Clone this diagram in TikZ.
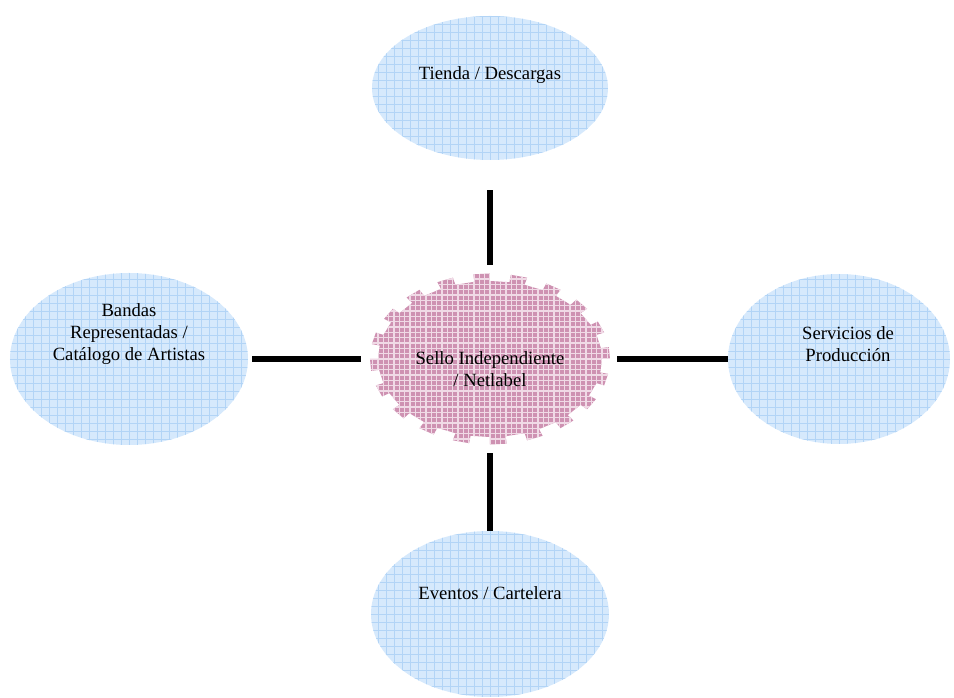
\documentclass[tikz,border=0pt]{standalone}
\usepackage{fontspec}
\setmainfont{Liberation Serif}
\usepackage{xcolor}
\usetikzlibrary{shapes.geometric, arrows}
\definecolor{bubbleblue}{RGB}{214,233,252}
\definecolor{gridblue}{RGB}{178,212,246}
\definecolor{hubmauve}{RGB}{206,146,178}
\definecolor{gridmauve}{RGB}{240,218,230}
\tikzstyle{bubble} = [ellipse, 
inner sep=0pt, 
fill=bubbleblue, 
path picture={\draw[gridblue, line width=0.6pt, step=6pt] (path picture bounding box.south west) grid (path picture bounding box.north east);}]
\tikzstyle{hub} = [ellipse, 
inner sep=0pt, 
minimum width=180pt, 
minimum height=128pt]
\tikzstyle{hubfill} = [fill=hubmauve, 
path picture={\draw[gridmauve, line width=0.8pt, step=4pt] (path picture bounding box.south west) grid (path picture bounding box.north east);}]
\tikzstyle{bubbletext} = [align=center, 
font=\fontsize{14}{16.5}\selectfont]
\tikzstyle{link} = [line width=4pt]

\begin{document}
\begin{tikzpicture}[x=0.75pt, y=0.75pt]
\useasboundingbox (-490,-339) rectangle (464,359);

% jagged centre
\path[hubfill] (0:112 and 78) \foreach \t in {0,18,...,342} {
  -- (\t:112 and 78) -- (\t:120 and 85.5) -- ({\t+8}:120 and 85.5) -- ({\t+8}:112 and 78)} -- cycle;

\node (sello) [hub] at (0,0) {};
\node [bubbletext, yshift=-7.5pt] at (sello.center) {Sello Independiente\\/ Netlabel};

\node (tienda) [bubble, minimum width=177pt, minimum height=108pt,
  label={[bubbletext, yshift=9.75pt]center:Tienda / Descargas}] at (0,271) {};
\node (bandas) [bubble, minimum width=178.5pt, minimum height=129pt,
  label={[bubbletext, yshift=18.75pt]center:Bandas\\Representadas /\\Catálogo de Artistas}] at (-361,0) {};
\node (servicios) [bubble, minimum width=166.5pt, minimum height=127.5pt,
  label={[bubbletext, xshift=6.75pt, yshift=11.25pt]center:Servicios de\\Producción}] at (349,0) {};
\node (eventos) [bubble, minimum width=178.5pt, minimum height=124.5pt,
  label={[bubbletext, yshift=15.75pt]center:Eventos / Cartelera}] at (0,-255) {};

\draw [link, shorten <=6.4pt, shorten >=22.5pt] (sello) -- (tienda);
\draw [link, shorten <=6.75pt, shorten >=3pt] (sello) -- (bandas);
\draw [link, shorten <=5.25pt] (sello) -- (servicios);
\draw [link, shorten <=6.4pt] (sello) -- (eventos);

\end{tikzpicture}
\end{document}
